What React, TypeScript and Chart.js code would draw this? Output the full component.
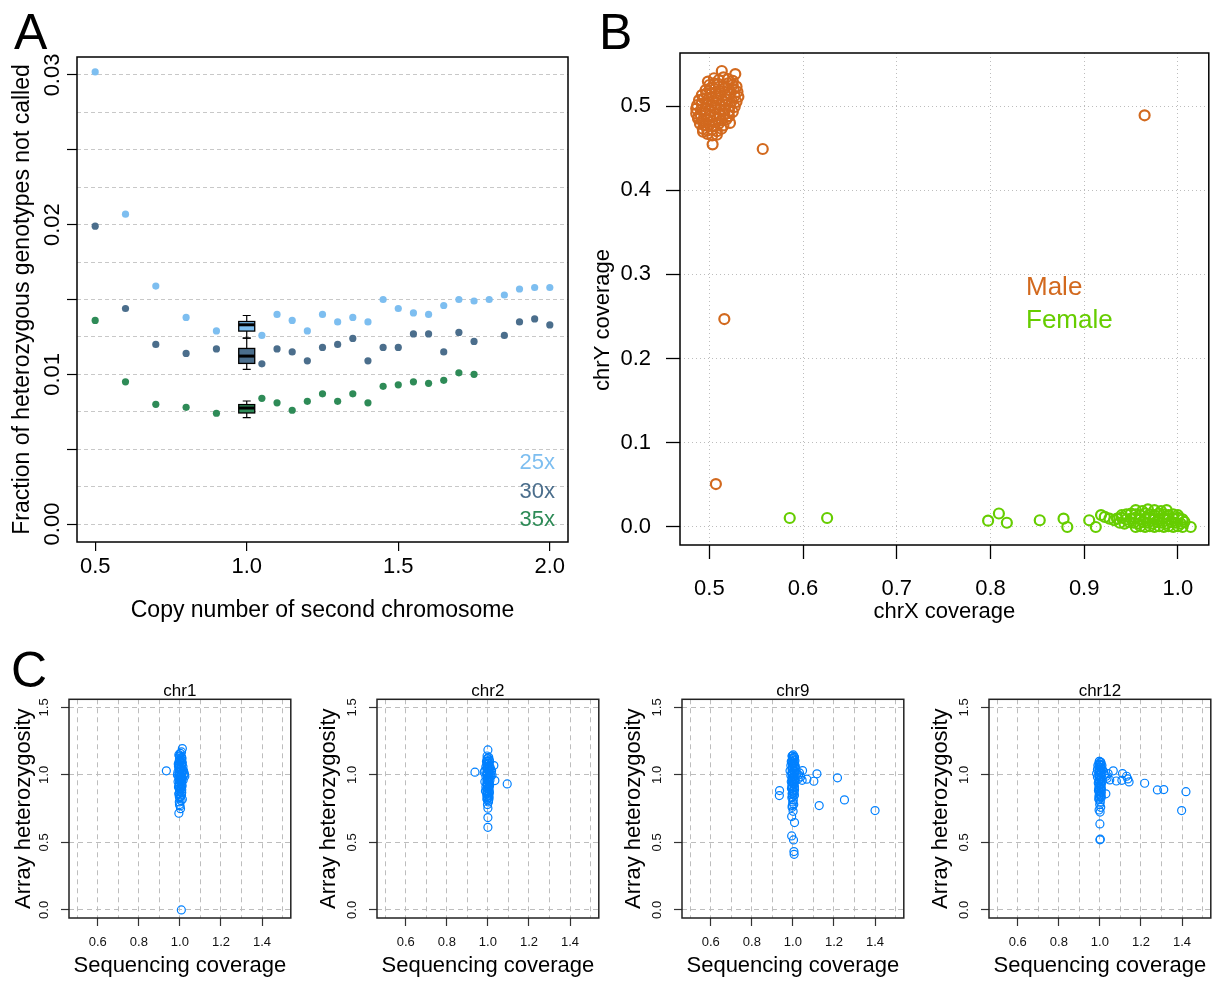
import React, { useEffect, useRef } from "react";
import { Chart, registerables } from "chart.js";

Chart.register(...registerables);

const FF = "'Liberation Sans', Arial, Helvetica, sans-serif";
Chart.defaults.font.family = FF;

// ---------------- Panel A data ----------------
const A_X = [0.5, 0.6, 0.7, 0.8, 0.9, 1.05, 1.1, 1.15, 1.2, 1.25, 1.3, 1.35, 1.4, 1.45, 1.5, 1.55, 1.6, 1.65, 1.7, 1.75, 1.8, 1.85, 1.9, 1.95, 2.0];
const A_25X = [0.0302, 0.0207, 0.0159, 0.0138, 0.0129, 0.0126, 0.014, 0.0136, 0.0129, 0.014, 0.0135, 0.0138, 0.0135, 0.015, 0.0144, 0.0141, 0.014, 0.0146, 0.015, 0.0149, 0.015, 0.0153, 0.0157, 0.0158, 0.0158];
const A_30X = [0.0199, 0.0144, 0.012, 0.0114, 0.0117, 0.0107, 0.0117, 0.0115, 0.0109, 0.0118, 0.012, 0.0124, 0.0109, 0.0118, 0.0118, 0.0127, 0.0127, 0.0115, 0.0128, 0.0122, null, 0.0126, 0.0135, 0.0137, 0.0133];
const A_35X = [0.0136, 0.0095, 0.008, 0.0078, 0.0074, 0.0084, 0.0081, 0.0076, 0.0082, 0.0087, 0.0082, 0.0087, 0.0081, 0.0092, 0.0093, 0.0095, 0.0094, 0.0096, 0.0101, 0.01, null, null, null, null, null];
const A_BOX_X = 1.0;
// [lower whisker, Q1, median, Q3, upper whisker]
const A_BOX_25X = [0.01242, 0.01289, 0.01331, 0.01353, 0.01393];
const A_BOX_30X = [0.01033, 0.01073, 0.01122, 0.01173, 0.01242];
const A_BOX_35X = [0.00711, 0.00742, 0.00775, 0.00798, 0.00822];
const A_SERIES = ["25x", "30x", "35x"];
const A_COLORS = ["#7DBEF0", "#4B6E8C", "#2E8B57"];
const A_X_TICKS = [0.5, 1.0, 1.5, 2.0];
const A_Y_GRID = [0, 0.0025, 0.005, 0.0075, 0.01, 0.0125, 0.015, 0.0175, 0.02, 0.0225, 0.025, 0.0275, 0.03];
const A_Y_LABELS = [0, 0.01, 0.02, 0.03];
const A_Y_LABEL_TEXT = ["0.00", "0.01", "0.02", "0.03"];

// ---------------- Panel B data ----------------
const B_MALE_X = [
  0.505, 0.51, 0.515, 0.52, 0.525,
  0.5, 0.505, 0.51, 0.515, 0.52, 0.525, 0.529,
  0.496, 0.501, 0.506, 0.511, 0.516, 0.521, 0.526, 0.53,
  0.492, 0.497, 0.502, 0.507, 0.512, 0.517, 0.522, 0.527, 0.531,
  0.489, 0.494, 0.499, 0.504, 0.509, 0.514, 0.519, 0.524, 0.529,
  0.487, 0.492, 0.497, 0.502, 0.507, 0.512, 0.517, 0.522, 0.527,
  0.486, 0.491, 0.496, 0.501, 0.506, 0.511, 0.516, 0.521, 0.525,
  0.486, 0.491, 0.496, 0.501, 0.506, 0.511, 0.516, 0.521,
  0.488, 0.493, 0.498, 0.503, 0.508, 0.513, 0.518,
  0.49, 0.495, 0.5, 0.505, 0.51, 0.515,
  0.493, 0.498, 0.503, 0.508, 0.513,
  0.498, 0.503, 0.508,
  0.5133, 0.5277, 0.4985, 0.522, 0.5035, 0.488, 0.4933,
  0.557, 0.9645, 0.516, 0.507,
];
const B_MALE_Y = [
  0.533, 0.531, 0.534, 0.532, 0.53,
  0.525, 0.527, 0.526, 0.524, 0.527, 0.525, 0.523,
  0.519, 0.521, 0.52, 0.518, 0.521, 0.519, 0.52, 0.517,
  0.513, 0.515, 0.514, 0.512, 0.515, 0.513, 0.514, 0.512, 0.511,
  0.507, 0.509, 0.508, 0.506, 0.509, 0.507, 0.508, 0.506, 0.505,
  0.501, 0.503, 0.502, 0.5, 0.503, 0.501, 0.502, 0.5, 0.499,
  0.497, 0.495, 0.496, 0.494, 0.497, 0.495, 0.496, 0.494, 0.493,
  0.491, 0.489, 0.49, 0.488, 0.491, 0.489, 0.49, 0.488,
  0.485, 0.483, 0.484, 0.482, 0.485, 0.483, 0.484,
  0.479, 0.477, 0.478, 0.476, 0.479, 0.477,
  0.473, 0.471, 0.472, 0.47, 0.473,
  0.467, 0.465, 0.466,
  0.5416, 0.538, 0.529, 0.48, 0.4545, 0.4866, 0.4695,
  0.449, 0.489, 0.247, 0.051,
];
const B_FEMALE_X = [
  0.955, 0.962, 0.968, 0.975, 0.982, 0.988,
  0.94, 0.945, 0.95, 0.955, 0.96, 0.965, 0.97, 0.975, 0.98, 0.985, 0.99, 0.995, 1.0,
  0.935, 0.94, 0.945, 0.95, 0.955, 0.96, 0.965, 0.97, 0.975, 0.98, 0.985, 0.99, 0.995, 1.0, 1.005,
  0.938, 0.943, 0.948, 0.953, 0.958, 0.963, 0.968, 0.973, 0.978, 0.983, 0.988, 0.993, 0.998, 1.003, 1.007,
  0.955, 0.96, 0.965, 0.97, 0.975, 0.98, 0.985, 0.99, 0.995, 1.0, 1.005,
  0.5858, 0.6257, 0.7975, 0.809, 0.8175, 0.8526, 0.878, 0.882, 0.9054, 0.9124, 0.918, 0.922, 0.932, 1.0137, 0.927,
];
const B_FEMALE_Y = [
  0.02, 0.019, 0.021, 0.02, 0.019, 0.02,
  0.014, 0.015, 0.016, 0.015, 0.014, 0.016, 0.015, 0.014, 0.016, 0.015, 0.014, 0.015, 0.014,
  0.01, 0.011, 0.009, 0.01, 0.011, 0.009, 0.01, 0.011, 0.009, 0.01, 0.011, 0.009, 0.01, 0.011, 0.009,
  0.005, 0.004, 0.006, 0.005, 0.004, 0.006, 0.005, 0.004, 0.006, 0.005, 0.004, 0.006, 0.005, 0.004, 0.006,
  0.0, 0.001, 0.0, 0.001, 0.0, 0.001, 0.0, 0.001, 0.0, 0.001, 0.0,
  0.0107, 0.0107, 0.0075, 0.016, 0.005, 0.008, 0.0099, 0.0, 0.008, 0.0, 0.0142, 0.012, 0.008, 0.0, 0.01,
];
const B_LEGEND = ["Male", "Female"];
const B_COLORS = ["#D2691E", "#66CD00"];
const B_X_TICKS = [0.5, 0.6, 0.7, 0.8, 0.9, 1.0];
const B_Y_TICKS = [0, 0.1, 0.2, 0.3, 0.4, 0.5];

// ---------------- Panel C data ----------------
const C_TITLES = ["chr1", "chr2", "chr9", "chr12"];
const C1_X = [0.934, 1.007, 0.995, 1.012, 1.012, 1.003, 0.998, 1.008, 1.002, 0.995, 1.005, 1.01, 0.998, 1.002, 1.012, 0.992, 1.006, 1.015, 0.996, 1.003, 1.018, 0.99, 1.008, 1.02, 0.994, 1.012, 1.002, 1.016, 0.991, 1.006, 0.998, 1.011, 0.993, 1.004, 1.0, 1.009, 0.995, 1.003, 0.999, 1.006, 0.997, 1.001, 1.022, 1.024, 0.988, 1.014, 0.993, 1.009, 1.0, 1.004];
const C1_Y = [1.03, 0.0, 0.716, 1.195, 0.82, 0.75, 0.78, 1.17, 1.16, 1.15, 1.14, 1.12, 1.11, 1.1, 1.09, 1.08, 1.07, 1.06, 1.05, 1.04, 1.03, 1.02, 1.01, 1.0, 0.99, 0.98, 0.97, 0.96, 0.95, 0.94, 0.93, 0.92, 0.91, 0.9, 0.88, 0.87, 0.86, 0.84, 0.83, 0.81, 0.8, 0.77, 1.01, 0.99, 1.0, 1.03, 1.065, 0.955, 1.005, 0.985];
const C1_CORE_X = [0.997, 0.996, 0.998, 0.997, 0.996, 0.998, 0.997, 0.996, 0.998, 0.997, 0.996, 0.998, 0.997, 0.996, 0.998, 0.997, 1.008, 1.007, 1.009, 1.008, 1.007, 1.009, 1.008, 1.007, 1.009, 1.008, 1.007, 1.009, 1.008, 1.007, 1.009];
const C1_CORE_Y = [0.84, 0.86, 0.88, 0.9, 0.92, 0.94, 0.96, 0.98, 1.0, 1.02, 1.04, 1.06, 1.08, 1.1, 1.12, 1.14, 0.85, 0.87, 0.89, 0.91, 0.93, 0.95, 0.97, 0.99, 1.01, 1.03, 1.05, 1.07, 1.09, 1.11, 1.13];
const C2_X = [0.937, 1.094, 1.0, 1.0, 1.0, 1.034, 1.029, 1.0, 0.998, 1.003, 0.988, 0.996, 1.004, 1.0, 0.993, 1.008, 1.002, 0.99, 1.01, 0.998, 1.015, 0.985, 1.005, 0.995, 1.012, 1.02, 0.99, 1.003, 0.998, 1.01, 0.985, 1.004, 0.995, 1.008, 0.99, 1.001, 0.997, 1.006, 0.994, 1.002, 0.999, 1.004, 0.996, 1.015, 0.982, 1.018];
const C2_Y = [1.02, 0.933, 1.185, 0.684, 0.612, 0.958, 1.069, 0.753, 0.78, 0.8, 0.88, 1.14, 1.13, 1.12, 1.1, 1.1, 1.085, 1.06, 1.06, 1.05, 1.04, 1.03, 1.03, 1.01, 1.005, 1.0, 0.99, 0.985, 0.97, 0.96, 0.95, 0.945, 0.93, 0.92, 0.91, 0.9, 0.88, 0.87, 0.86, 0.845, 0.83, 0.815, 0.82, 0.99, 1.02, 1.03];
const C2_CORE_X = [0.996, 0.995, 0.997, 0.996, 0.995, 0.997, 0.996, 0.995, 0.997, 0.996, 0.995, 0.997, 0.996, 0.995, 0.997, 0.996, 1.006, 1.005, 1.007, 1.006, 1.005, 1.007, 1.006, 1.005, 1.007, 1.006, 1.005, 1.007, 1.006, 1.005, 1.007];
const C2_CORE_Y = [0.82, 0.84, 0.86, 0.88, 0.9, 0.92, 0.94, 0.96, 0.98, 1.0, 1.02, 1.04, 1.06, 1.08, 1.1, 1.12, 0.83, 0.85, 0.87, 0.89, 0.91, 0.93, 0.95, 0.97, 0.99, 1.01, 1.03, 1.05, 1.07, 1.09, 1.11];
const C9_X = [0.935, 0.934, 1.117, 1.102, 1.068, 1.217, 1.128, 1.251, 1.4, 1.047, 1.045, 1.008, 0.994, 1.003, 1.005, 1.006, 0.994, 0.997, 1.002, 0.996, 1.005, 1.0, 0.992, 1.01, 1.003, 0.99, 1.012, 0.998, 1.015, 0.986, 1.006, 0.995, 1.02, 1.028, 0.99, 1.004, 0.999, 1.012, 0.992, 1.004, 0.996, 1.007, 0.993, 1.001, 0.998, 1.006, 0.995, 1.002, 0.999, 1.004, 0.996, 1.001, 1.032, 1.038, 1.025];
const C9_Y = [0.884, 0.847, 1.008, 0.953, 0.968, 0.978, 0.773, 0.815, 0.736, 1.032, 0.96, 0.647, 0.548, 0.518, 0.432, 0.412, 0.692, 0.773, 1.148, 1.14, 1.135, 1.12, 1.1, 1.105, 1.085, 1.07, 1.065, 1.05, 1.04, 1.03, 1.03, 1.01, 1.01, 1.0, 0.995, 0.985, 0.97, 0.96, 0.95, 0.94, 0.92, 0.91, 0.9, 0.88, 0.86, 0.85, 0.83, 0.815, 0.8, 0.78, 0.76, 0.73, 1.015, 0.985, 0.97];
const C9_CORE_X = [0.997, 0.996, 0.998, 0.997, 0.996, 0.998, 0.997, 0.996, 0.998, 0.997, 0.996, 0.998, 0.997, 0.996, 0.998, 0.997, 1.007, 1.006, 1.008, 1.007, 1.006, 1.008, 1.007, 1.006, 1.008, 1.007, 1.006, 1.008, 1.007, 1.006, 1.008];
const C9_CORE_Y = [0.84, 0.86, 0.88, 0.9, 0.92, 0.94, 0.96, 0.98, 1.0, 1.02, 1.04, 1.06, 1.08, 1.1, 1.12, 1.14, 0.85, 0.87, 0.89, 0.91, 0.93, 0.95, 0.97, 0.99, 1.01, 1.03, 1.05, 1.07, 1.09, 1.11, 1.13];
const C12_X = [1.218, 1.28, 1.311, 1.419, 1.398, 1.142, 1.107, 1.065, 1.11, 1.13, 1.136, 1.0, 1.0, 1.002, 1.048, 1.029, 1.08, 0.997, 1.004, 1.0, 0.99, 1.01, 1.003, 0.988, 1.012, 0.998, 1.018, 0.984, 1.006, 0.995, 1.022, 1.03, 0.988, 1.004, 0.999, 1.012, 0.992, 1.004, 0.996, 1.007, 0.993, 1.001, 0.998, 1.006, 0.995, 1.002, 0.999, 1.004, 0.996, 1.001, 1.04, 1.035];
const C12_Y = [0.938, 0.889, 0.891, 0.876, 0.736, 0.948, 0.96, 1.03, 1.01, 0.99, 0.97, 0.637, 0.519, 0.524, 0.963, 0.86, 0.955, 1.1, 1.095, 1.08, 1.07, 1.07, 1.055, 1.04, 1.04, 1.03, 1.025, 1.01, 1.01, 1.0, 1.0, 0.99, 0.985, 0.975, 0.96, 0.955, 0.94, 0.93, 0.91, 0.9, 0.885, 0.87, 0.85, 0.84, 0.82, 0.8, 0.78, 0.76, 0.74, 0.725, 1.01, 0.975];
const C12_CORE_X = [0.996, 0.995, 0.997, 0.996, 0.995, 0.997, 0.996, 0.995, 0.997, 0.996, 0.995, 0.997, 0.996, 0.995, 0.997, 1.006, 1.005, 1.007, 1.006, 1.005, 1.007, 1.006, 1.005, 1.007, 1.006, 1.005, 1.007, 1.006, 1.005];
const C12_CORE_Y = [0.82, 0.84, 0.86, 0.88, 0.9, 0.92, 0.94, 0.96, 0.98, 1.0, 1.02, 1.04, 1.06, 1.08, 1.1, 0.83, 0.85, 0.87, 0.89, 0.91, 0.93, 0.95, 0.97, 0.99, 1.01, 1.03, 1.05, 1.07, 1.09];
const C_XS = [C1_X.concat(C1_CORE_X), C2_X.concat(C2_CORE_X), C9_X.concat(C9_CORE_X), C12_X.concat(C12_CORE_X)];
const C_YS = [C1_Y.concat(C1_CORE_Y), C2_Y.concat(C2_CORE_Y), C9_Y.concat(C9_CORE_Y), C12_Y.concat(C12_CORE_Y)];
const C_COLOR = "#0080FF";
const C_X_GRID = [0.5, 0.6, 0.7, 0.8, 0.9, 1.0, 1.1, 1.2, 1.3, 1.4, 1.5];
const C_X_LABELS = [0.6, 0.8, 1.0, 1.2, 1.4];
const C_Y_TICKS = [0, 0.5, 1.0, 1.5];
const C_Y_LABEL_TEXT = ["0.0", "0.5", "1.0", "1.5"];

// ---------------- helpers ----------------
const near = (a: number, b: number) => Math.abs(a - b) < 1e-9;
const onStep = (v: number, step: number) => Math.abs(v / step - Math.round(v / step)) < 1e-6;
const pairs = (xs: number[], ys: (number | null)[]) =>
  xs.map((x, i) => ({ x, y: ys[i] })).filter((p) => p.y !== null && p.y !== undefined);

type Area = { l: number; t: number; r: number; b: number };

const framePlugin = (lw: number, color: string) => ({
  id: "frame",
  afterDatasetsDraw(chart: any) {
    const { ctx, chartArea: a } = chart;
    ctx.save();
    ctx.strokeStyle = color;
    ctx.lineWidth = lw;
    ctx.strokeRect(a.left, a.top, a.right - a.left, a.bottom - a.top);
    ctx.restore();
  },
});

type TextItem = { text: string; x: number; y: number; font: string; color: string; align?: CanvasTextAlign; rot?: number };
const textPlugin = (id: string, fn: (chart: any) => TextItem[]) => ({
  id,
  afterDraw(chart: any) {
    const { ctx } = chart;
    for (const it of fn(chart)) {
      ctx.save();
      ctx.font = it.font;
      ctx.fillStyle = it.color;
      ctx.textAlign = it.align || "center";
      ctx.textBaseline = "middle";
      ctx.translate(it.x, it.y);
      if (it.rot) ctx.rotate(it.rot);
      ctx.fillText(it.text, 0, 0);
      ctx.restore();
    }
  },
});

const boxPlugin = {
  id: "boxes",
  afterDatasetsDraw(chart: any) {
    const { ctx } = chart;
    const xs = chart.scales.x;
    const ys = chart.scales.y;
    const cx = xs.getPixelForValue(A_BOX_X);
    [A_BOX_25X, A_BOX_30X, A_BOX_35X].forEach((st, i) => {
      const [lo, q1, md, q3, hi] = st.map((v) => ys.getPixelForValue(v));
      ctx.save();
      ctx.strokeStyle = "#000";
      ctx.lineWidth = 1.2;
      ctx.beginPath();
      ctx.moveTo(cx, hi); ctx.lineTo(cx, q3);
      ctx.moveTo(cx, q1); ctx.lineTo(cx, lo);
      ctx.moveTo(cx - 4, hi); ctx.lineTo(cx + 4, hi);
      ctx.moveTo(cx - 4, lo); ctx.lineTo(cx + 4, lo);
      ctx.stroke();
      ctx.fillStyle = A_COLORS[i];
      ctx.fillRect(cx - 8, q3, 16, q1 - q3);
      ctx.lineWidth = 1.3;
      ctx.strokeRect(cx - 8, q3, 16, q1 - q3);
      ctx.lineWidth = 3;
      ctx.beginPath();
      ctx.moveTo(cx - 8, md); ctx.lineTo(cx + 8, md);
      ctx.stroke();
      ctx.restore();
    });
  },
};

const yFit = (w: number) => (s: any) => { s.width = w; s.paddingTop = 0; s.paddingBottom = 0; };
const xFit = (h: number) => (s: any) => { s.height = h; s.paddingLeft = 0; s.paddingRight = 0; };

// ---------------- Panel A ----------------
function buildA(W: number, H: number) {
  const a: Area = { l: 77, t: 57, r: 568, b: 542 };
  return {
    type: "scatter",
    data: {
      datasets: [A_25X, A_30X, A_35X].map((ys, i) => ({
        label: A_SERIES[i],
        data: pairs(A_X, ys),
        backgroundColor: A_COLORS[i],
        borderWidth: 0,
        pointRadius: 3.6,
        pointHoverRadius: 3.6,
      })),
    },
    options: {
      responsive: false,
      animation: false,
      events: [],
      layout: { padding: { left: 0, top: a.t, right: W - a.r, bottom: 0 } },
      plugins: { legend: { display: false }, tooltip: { enabled: false } },
      scales: {
        x: {
          type: "linear",
          min: 0.44,
          max: 2.06,
          afterBuildTicks: (s: any) => { s.ticks = A_X_TICKS.map((v) => ({ value: v })); },
          afterFit: xFit(H - a.b),
          ticks: { autoSkip: false, maxRotation: 0, minRotation: 0, padding: 3, color: "#000", font: { family: FF, size: 22 }, callback: (v: any) => Number(v).toFixed(1) },
          grid: { drawOnChartArea: false, tickLength: 9, color: "#000", tickColor: "#000", lineWidth: 1.2 },
          border: { display: false },
          title: { display: true, text: "Copy number of second chromosome", color: "#000", font: { family: FF, size: 23, lineHeight: 1.2 }, padding: { top: 0, bottom: 16 } },
        },
        y: {
          type: "linear",
          min: -0.0012,
          max: 0.0312,
          afterBuildTicks: (s: any) => { s.ticks = A_Y_GRID.map((v) => ({ value: v })); },
          afterFit: yFit(a.l),
          ticks: { display: false },
          grid: {
            color: "#C8C8C8",
            lineWidth: 1,
            tickLength: 10,
            tickWidth: 1.2,
            tickColor: (c: any) => (c.tick && onStep(c.tick.value, 0.005) ? "#000" : "rgba(0,0,0,0)"),
          },
          border: { display: false, dash: [4, 3] },
          title: { display: true, text: "Fraction of heterozygous genotypes not called", color: "#000", font: { family: FF, size: 23, lineHeight: 1.2 }, padding: { top: 9, bottom: 0 } },
        },
      },
    },
    plugins: [
      framePlugin(1.5, "#000"),
      boxPlugin,
      textPlugin("rotY", (chart) =>
        A_Y_LABELS.map((v, i) => ({
          text: A_Y_LABEL_TEXT[i],
          x: chart.chartArea.left - 24,
          y: chart.scales.y.getPixelForValue(v),
          font: `22px ${FF}`,
          color: "#000",
          rot: -Math.PI / 2,
        }))
      ),
      textPlugin("legA", (chart) =>
        A_SERIES.map((s, i) => ({
          text: s,
          x: chart.chartArea.right - 13,
          y: chart.chartArea.bottom - 79 + i * 28.5,
          font: `22px ${FF}`,
          color: A_COLORS[i],
          align: "right" as CanvasTextAlign,
        }))
      ),
    ],
  };
}

// ---------------- Panel B ----------------
function buildB(W: number, H: number) {
  const a: Area = { l: 100, t: 53, r: 634, b: 545 };
  return {
    type: "scatter",
    data: {
      datasets: [
        { label: B_LEGEND[0], data: pairs(B_MALE_X, B_MALE_Y), borderColor: B_COLORS[0], backgroundColor: "rgba(0,0,0,0)", borderWidth: 2.2, pointRadius: 5, pointHoverRadius: 5 },
        { label: B_LEGEND[1], data: pairs(B_FEMALE_X, B_FEMALE_Y), borderColor: B_COLORS[1], backgroundColor: "rgba(0,0,0,0)", borderWidth: 2.2, pointRadius: 5, pointHoverRadius: 5 },
      ],
    },
    options: {
      responsive: false,
      animation: false,
      events: [],
      layout: { padding: { left: 0, top: a.t, right: W - a.r, bottom: 0 } },
      plugins: { legend: { display: false }, tooltip: { enabled: false } },
      scales: {
        x: {
          type: "linear",
          min: 0.4687,
          max: 1.033,
          afterBuildTicks: (s: any) => { s.ticks = B_X_TICKS.map((v) => ({ value: v })); },
          afterFit: xFit(H - a.b),
          ticks: { autoSkip: false, maxRotation: 0, minRotation: 0, padding: 17, color: "#000", font: { family: FF, size: 22 }, callback: (v: any) => Number(v).toFixed(1) },
          grid: { color: "#BDBDBD", lineWidth: 1, tickLength: 14, tickColor: "#000", tickWidth: 1.3 },
          border: { display: false, dash: [1, 3] },
          title: { display: true, text: "chrX coverage", color: "#000", font: { family: FF, size: 22, lineHeight: 1.2 }, padding: { top: 0, bottom: 15 } },
        },
        y: {
          type: "linear",
          min: -0.0214,
          max: 0.563,
          afterBuildTicks: (s: any) => { s.ticks = B_Y_TICKS.map((v) => ({ value: v })); },
          afterFit: yFit(a.l),
          ticks: { padding: 15, color: "#000", font: { family: FF, size: 22 }, callback: (v: any) => Number(v).toFixed(1) },
          grid: { color: "#BDBDBD", lineWidth: 1, tickLength: 14, tickColor: "#000", tickWidth: 1.3 },
          border: { display: false, dash: [1, 3] },
          title: { display: false },
        },
      },
    },
    plugins: [
      framePlugin(1.5, "#000"),
      textPlugin("titleYB", () => [{ text: "chrY coverage", x: 23, y: 320, font: `22px ${FF}`, color: "#000", rot: -Math.PI / 2 }]),
      textPlugin("legB", (chart) =>
        B_LEGEND.map((s, i) => ({
          text: s,
          x: chart.chartArea.left + 346,
          y: chart.chartArea.top + 235 + i * 33,
          font: `26px ${FF}`,
          color: B_COLORS[i],
          align: "left" as CanvasTextAlign,
        }))
      ),
    ],
  };
}

// ---------------- Panel C ----------------
const C_LEFTS = [0, 308, 613, 920];
const C_YTITLE_PAD = [10.8, 7.8, 7.8, 7.8];

function buildC(idx: number) {
  return (W: number, H: number) => {
    const a: Area = { l: 69, t: 59.3, r: 292.5, b: 278 };
    return {
      type: "scatter",
      data: {
        datasets: [
          { label: C_TITLES[idx], data: pairs(C_XS[idx], C_YS[idx]), borderColor: C_COLOR, backgroundColor: "rgba(0,0,0,0)", borderWidth: 1.2, pointRadius: 4, pointHoverRadius: 4 },
        ],
      },
      options: {
        responsive: false,
        animation: false,
        events: [],
        layout: { padding: { left: 0, top: a.t, right: W - a.r, bottom: 0 } },
        plugins: { legend: { display: false }, tooltip: { enabled: false } },
        scales: {
          x: {
            type: "linear",
            min: 0.46,
            max: 1.54,
            afterBuildTicks: (s: any) => { s.ticks = C_X_GRID.map((v) => ({ value: v })); },
            afterFit: xFit(H - a.b),
            ticks: {
              autoSkip: false, maxRotation: 0, minRotation: 0, padding: 9, color: "#111", font: { family: FF, size: 13 },
              callback: (v: any) => (C_X_LABELS.some((l) => near(l, Number(v))) ? Number(v).toFixed(1) : ""),
            },
            grid: {
              color: "#BDBDBD",
              lineWidth: 1,
              tickLength: 8,
              tickWidth: 1.2,
              tickColor: (c: any) => (c.tick && C_X_LABELS.some((l) => near(l, c.tick.value)) ? "#333" : "rgba(0,0,0,0)"),
            },
            border: { display: false, dash: [5, 4] },
            title: { display: true, text: "Sequencing coverage", color: "#000", font: { family: FF, size: 22, lineHeight: 1.2 }, padding: { top: 0, bottom: 2 } },
          },
          y: {
            type: "linear",
            min: -0.06,
            max: 1.56,
            afterBuildTicks: (s: any) => { s.ticks = C_Y_TICKS.map((v) => ({ value: v })); },
            afterFit: yFit(a.l),
            ticks: { display: false },
            grid: { color: "#BDBDBD", lineWidth: 1, tickLength: 8, tickWidth: 1.2, tickColor: "#333" },
            border: { display: false, dash: [5, 4] },
            title: { display: true, text: "Array heterozygosity", color: "#000", font: { family: FF, size: 22, lineHeight: 1.2 }, padding: { top: C_YTITLE_PAD[idx], bottom: 0 } },
          },
        },
      },
      plugins: [
        framePlugin(1.5, "#222"),
        textPlugin("rotYC", (chart) =>
          C_Y_TICKS.map((v, i) => ({
            text: C_Y_LABEL_TEXT[i],
            x: chart.chartArea.left - 25,
            y: chart.scales.y.getPixelForValue(v),
            font: `13px ${FF}`,
            color: "#111",
            rot: -Math.PI / 2,
          }))
        ),
        textPlugin("ptitle", (chart) => [
          {
            text: C_TITLES[idx],
            x: (chart.chartArea.left + chart.chartArea.right) / 2,
            y: chart.chartArea.top - 8,
            font: `17px ${FF}`,
            color: "#000",
          },
        ]),
      ],
    };
  };
}

function PlotCanvas(props: { left: number; top: number; width: number; height: number; build: (w: number, h: number) => any }) {
  const { left, top, width, height, build } = props;
  const ref = useRef<HTMLCanvasElement | null>(null);
  useEffect(() => {
    if (!ref.current) return;
    const chart = new Chart(ref.current, build(width, height));
    return () => chart.destroy();
  }, []);
  return <canvas ref={ref} width={width} height={height} style={{ position: "absolute", left, top, width, height }} />;
}

const letterStyle = (left: number, top: number): React.CSSProperties => ({
  position: "absolute",
  left,
  top,
  fontFamily: FF,
  fontSize: 50,
  lineHeight: "50px",
  color: "#000",
  margin: 0,
});

export default function App() {
  return (
    <div style={{ position: "absolute", left: 0, top: 0, width: 1216, height: 981, background: "#fff", overflow: "hidden" }}>
      <PlotCanvas left={0} top={0} width={580} height={640} build={buildA} />
      <PlotCanvas left={580} top={0} width={636} height={640} build={buildB} />
      {C_TITLES.map((t, i) => (
        <PlotCanvas key={t} left={C_LEFTS[i]} top={640} width={296} height={341} build={buildC(i)} />
      ))}
      <div style={letterStyle(14, 7)}>A</div>
      <div style={letterStyle(599, 7)}>B</div>
      <div style={letterStyle(11, 645)}>C</div>
    </div>
  );
}
